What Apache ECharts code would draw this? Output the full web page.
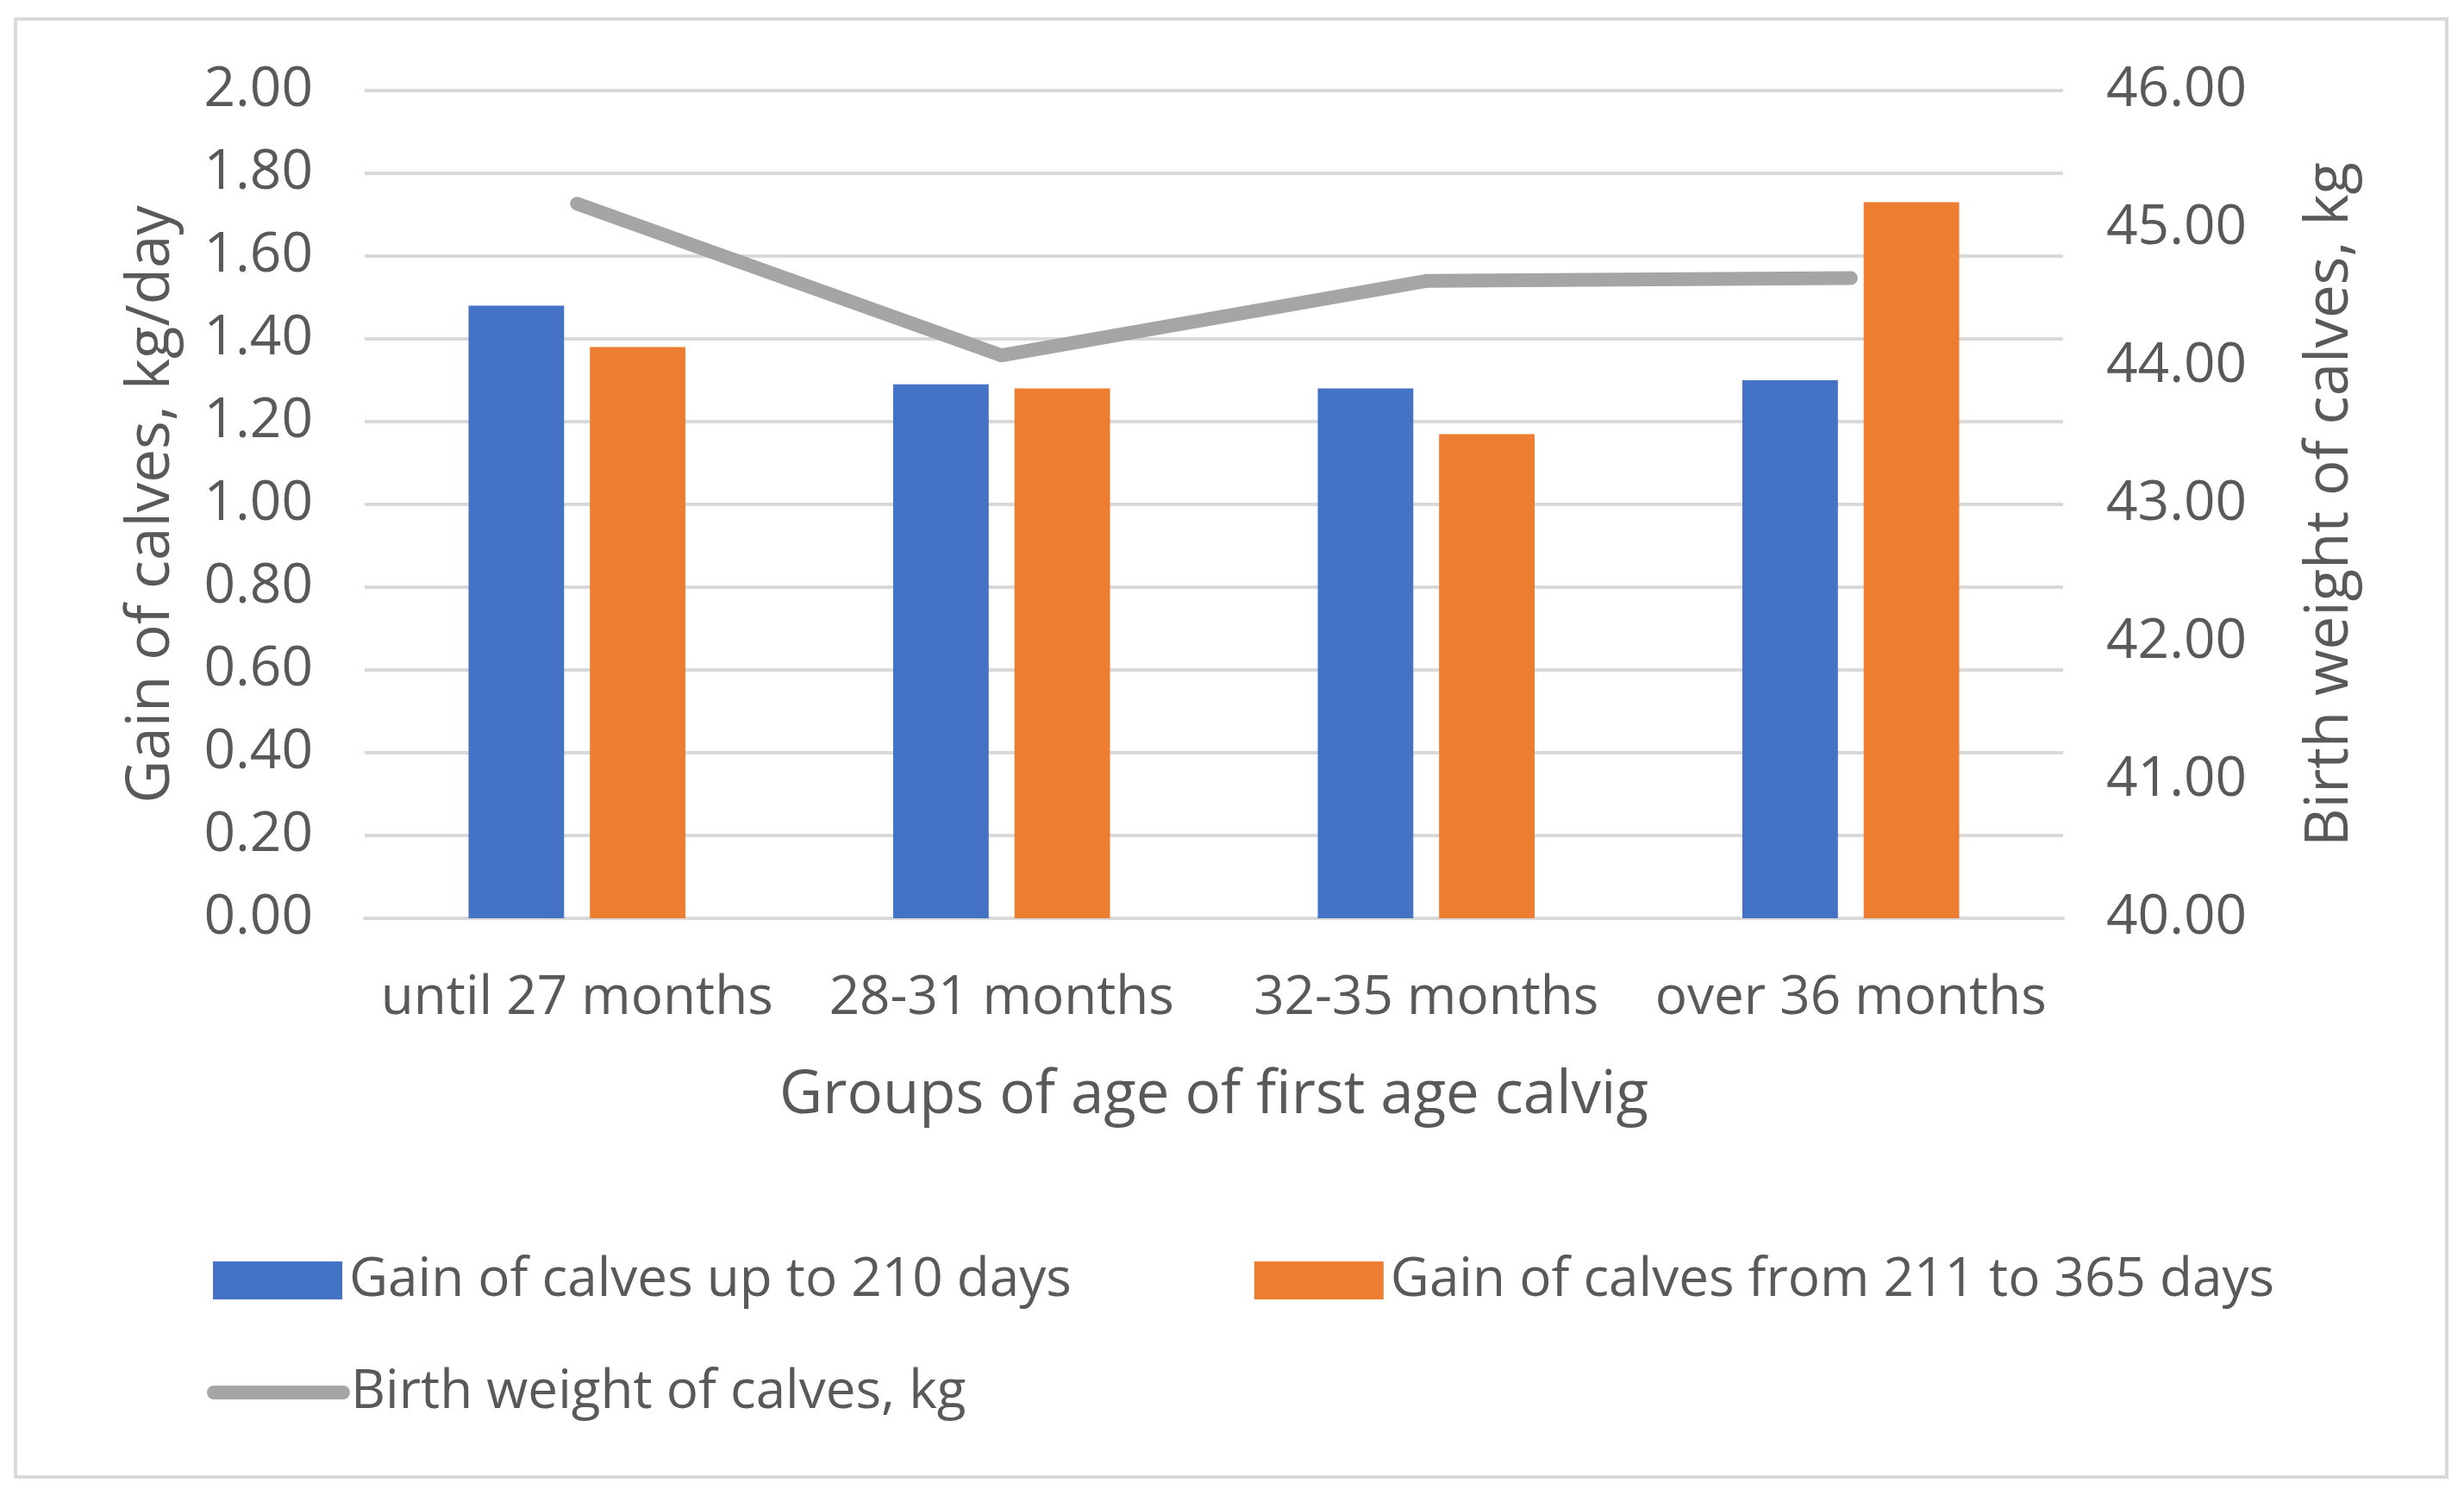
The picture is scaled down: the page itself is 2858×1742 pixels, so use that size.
<!DOCTYPE html>
<html>
<head>
<meta charset="utf-8">
<script src="https://cdn.jsdelivr.net/npm/echarts@6/dist/echarts.min.js"></script>
<style>html,body{margin:0;padding:0;background:#fff}#c{width:2858px;height:1742px}</style>
</head>
<body>
<div id="c"></div>
<script>
var categories = ['until 27 months', '28-31 months', '32-35 months', 'over 36 months'];
var gainUpTo210 = [1.48, 1.29, 1.28, 1.30];
var gain211to365 = [1.38, 1.28, 1.17, 1.73];
var birthWeight = [45.18, 44.08, 44.62, 44.64];
var seriesNames = ['Gain of calves up to 210 days', 'Gain of calves from 211 to 365 days', 'Birth weight of calves, kg'];

var FONT = 'Open Sans';
var TXT = '#595959';
var chart = echarts.init(document.getElementById('c'), null, {renderer: 'canvas'});
chart.setOption({
  backgroundColor: '#ffffff',
  animation: false,
  textStyle: {fontFamily: FONT, color: TXT},
  graphic: [{
    type: 'rect', shape: {x: 18, y: 22, width: 2820, height: 1691},
    style: {fill: 'none', stroke: '#d9d9d9', lineWidth: 4}, silent: true, z: -1
  }],
  grid: {left: 423, right: 465, top: 105, bottom: 677, containLabel: false},
  legend: [{
    data: [seriesNames[0], seriesNames[1]],
    left: 242, top: 1449, itemWidth: 150, itemHeight: 44, itemGap: 212,
    icon: 'rect',
    textStyle: {fontFamily: FONT, fontSize: 62, color: TXT, padding: [0, 0, 0, 3]}
  }, {
    data: [seriesNames[2]],
    left: 235, top: 1579, itemWidth: 166, itemHeight: 16,
    icon: 'path://M8,0 L158,0 A8,8 0 0 1 158,16 L8,16 A8,8 0 0 1 8,0 Z',
    textStyle: {fontFamily: FONT, fontSize: 62, color: TXT, padding: [0, 0, 0, -4]}
  }],
  xAxis: {
    type: 'category', data: categories,
    name: 'Groups of age of first age calvig', nameLocation: 'middle', nameGap: 172,
    nameTextStyle: {fontFamily: FONT, fontSize: 69, color: TXT},
    axisLine: {lineStyle: {color: '#d9d9d9', width: 4}},
    axisTick: {show: false},
    axisLabel: {fontFamily: FONT, fontSize: 62, color: TXT, margin: 62, interval: 0}
  },
  yAxis: [{
    type: 'value', min: 0, max: 2, interval: 0.2,
    name: 'Gain of calves, kg/day', nameLocation: 'middle', nameGap: 212,
    nameTextStyle: {fontFamily: FONT, fontSize: 69, color: TXT},
    axisLine: {show: false}, axisTick: {show: false},
    axisLabel: {fontFamily: FONT, fontSize: 64, color: TXT, margin: 60,
      formatter: function (v) { return v.toFixed(2); }},
    splitLine: {lineStyle: {color: '#d9d9d9', width: 4}}
  }, {
    type: 'value', min: 40, max: 46, interval: 1, position: 'right',
    name: 'Birth weight of calves, kg', nameLocation: 'middle', nameGap: 276,
    nameTextStyle: {fontFamily: FONT, fontSize: 69, color: TXT},
    axisLine: {show: false}, axisTick: {show: false},
    axisLabel: {fontFamily: FONT, fontSize: 64, color: TXT, margin: 50,
      formatter: function (v) { return v.toFixed(2); }},
    splitLine: {show: false}
  }],
  series: [{
    name: seriesNames[0], type: 'bar', data: gainUpTo210, yAxisIndex: 0,
    barWidth: '22.5%', barGap: '27%',
    itemStyle: {color: '#4472C4'}
  }, {
    name: seriesNames[1], type: 'bar', data: gain211to365, yAxisIndex: 0,
    barWidth: '22.5%', barGap: '27%',
    itemStyle: {color: '#ED7D31'}
  }, {
    name: seriesNames[2], type: 'line', data: birthWeight, yAxisIndex: 1,
    symbol: 'none', z: 5,
    lineStyle: {color: '#A5A5A5', width: 16, cap: 'round', join: 'round'},
    itemStyle: {color: '#A5A5A5'}
  }]
});
</script>
</body>
</html>
